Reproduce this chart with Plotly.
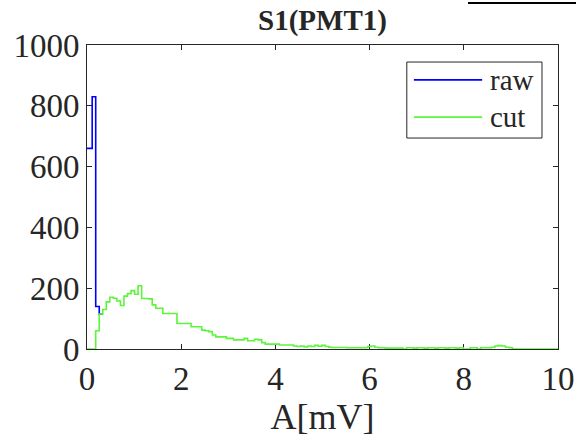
import numpy as np
import plotly.graph_objects as go

# Histogram bins (uniform width)
BIN_START = -0.04
BIN_WIDTH = 0.075
N_BINS = 134

# counts per bin, "cut" series
cut = [0, 0, 0, 60, 115, 130, 155, 170, 167, 158,
       143, 174, 182, 192, 180, 208, 166, 166, 165, 145,
       134, 134, 117, 117, 117, 117, 84, 84, 84, 84,
       73, 73, 73, 62, 60, 57, 46, 40, 40, 40,
       35, 35, 30, 30, 30, 35, 27, 27, 32, 30,
       21, 16, 16, 16, 16, 13, 13, 13, 13, 10,
       8, 10, 7, 10, 8, 12, 9, 12, 8, 6,
       5, 5, 5, 5, 4, 4, 4, 4, 4, 4,
       8, 10, 6, 4, 4, 3, 3, 3, 3, 3,
       0, 4, 4, 3, 4, 4, 3, 4, 4, 3,
       4, 4, 3, 4, 4, 3, 4, 0, 0, 4,
       4, 0, 4, 4, 4, 6, 10, 11, 10, 6,
       4, 0, 0, 0, 0, 0, 0, 0, 0, 0,
       0, 0, 0, 0]
# "raw" series: only the low-amplitude bins differ from "cut" (the rest lies under it)
raw = [660, 660, 830, 140, 115]
assert len(cut) == N_BINS

x_ticks = [0, 2, 4, 6, 8, 10]
y_ticks = [0, 200, 400, 600, 800, 1000]
legend_names = ["raw", "cut"]

edges = BIN_START + BIN_WIDTH * np.arange(N_BINS + 1)

FONT = "Liberation Serif"
AX = "#262626"
C_RAW = "#0000ff"
C_CUT = "#5cf53c"

fig = go.Figure()
fig.add_trace(go.Scatter(x=edges[:len(raw) + 1], y=raw + [raw[-1]], mode="lines", line_shape="hv",
                         line=dict(color=C_RAW, width=1.6), name="raw", showlegend=False))
fig.add_trace(go.Scatter(x=edges, y=cut + [cut[-1]], mode="lines", line_shape="hv",
                         line=dict(color=C_CUT, width=1.6), name="cut", showlegend=False))

axis_common = dict(showline=True, mirror="ticks", linecolor=AX, linewidth=1,
                   ticks="inside", ticklen=5, tickcolor=AX, tickwidth=1,
                   showgrid=False, zeroline=False, layer="below traces", automargin=False,
                   tickfont=dict(family=FONT, size=33, color="#262626"))

# manual MATLAB-style legend box (paper coordinates)
lx0, lx1, ly0, ly1 = 0.679, 0.966, 0.694, 0.944
seg_x0, seg_x1, txt_x = 0.694, 0.839, 0.851
rows_y = [0.885, 0.763]
shapes = [dict(type="rect", xref="paper", yref="paper", x0=lx0, x1=lx1, y0=ly0, y1=ly1,
               line=dict(color=AX, width=1), fillcolor="white", layer="above")]
annotations = []
for name, col, yy in zip(legend_names, [C_RAW, C_CUT], rows_y):
    shapes.append(dict(type="line", xref="paper", yref="paper", x0=seg_x0, x1=seg_x1,
                       y0=yy, y1=yy, line=dict(color=col, width=1.8), layer="above"))
    annotations.append(dict(text=name, xref="paper", yref="paper", x=txt_x, y=yy,
                            xanchor="left", yanchor="middle", showarrow=False,
                            font=dict(family=FONT, size=29, color="#262626")))

# fragment of a neighbouring figure at the top edge
shapes.append(dict(type="line", xref="paper", yref="paper",
                   x0=(468 - 87) / 471, x1=(576 - 87) / 471,
                   y0=(349 - 3) / 304, y1=(349 - 3) / 304,
                   line=dict(color="black", width=2)))

fig.update_layout(
    width=578, height=439,
    margin=dict(l=87, r=20, t=45, b=90, autoexpand=False),
    paper_bgcolor="white", plot_bgcolor="white",
    showlegend=False,
    title=dict(text="<b>S1(PMT1)</b>", x=0.5 * (87 + 558) / 578, xanchor="center",
               y=1 - 20 / 439, yanchor="middle",
               font=dict(family=FONT, size=29, color="#262626")),
    xaxis=dict(range=[0, 10], tickvals=x_ticks,
               title=dict(text="A[mV]", font=dict(family=FONT, size=36, color="#262626"), standoff=8),
               **axis_common),
    yaxis=dict(range=[0, 1000], tickvals=y_ticks, **axis_common),
    shapes=shapes,
    annotations=annotations,
)

fig.write_html("out.html")
